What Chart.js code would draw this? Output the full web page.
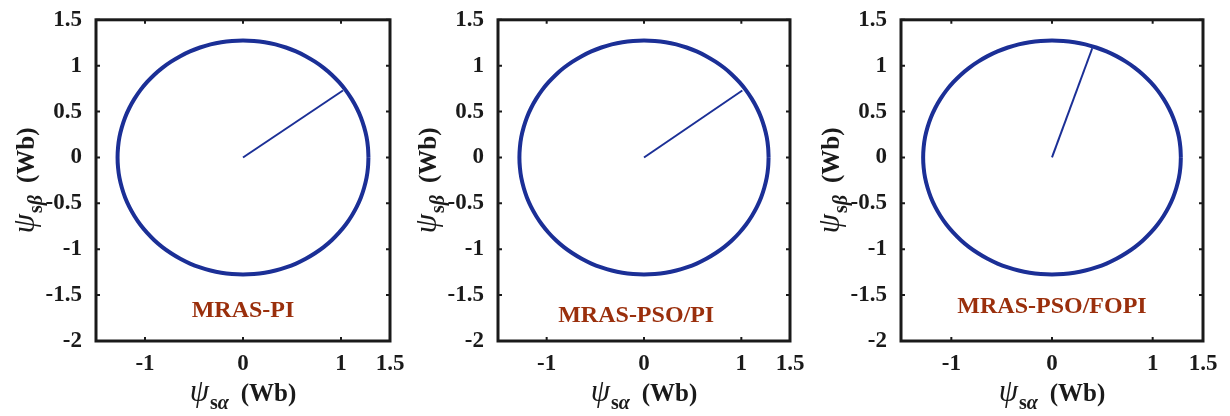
<!DOCTYPE html>
<html>
<head>
<meta charset="utf-8">
<script src="https://cdn.jsdelivr.net/npm/chart.js@4.4.1/dist/chart.umd.min.js"></script>
<style>
  html, body { margin: 0; padding: 0; background: #fff; }
  #wrap { position: relative; width: 1230px; height: 416px; overflow: hidden; }
  canvas { position: absolute; top: 0; }
</style>
</head>
<body>
<div id="wrap">
  <canvas id="c0" width="410" height="416" style="left:0px"></canvas>
  <canvas id="c1" width="410" height="416" style="left:410px"></canvas>
  <canvas id="c2" width="410" height="416" style="left:820px"></canvas>
</div>
<script>
// stator flux locus (same trajectory for all three), every 5 deg
const fluxAlpha = [
  1.280, 1.275, 1.261, 1.236, 1.203, 1.160, 1.108, 1.049, 0.980, 0.905, 0.823, 0.734, 0.640, 0.541, 0.438, 0.331, 0.222, 0.112,
  0.000, -0.112, -0.222, -0.331, -0.438, -0.541, -0.640, -0.734, -0.823, -0.905, -0.980, -1.049, -1.108, -1.160, -1.203, -1.236, -1.261, -1.275,
  -1.280, -1.275, -1.261, -1.236, -1.203, -1.160, -1.108, -1.049, -0.980, -0.905, -0.823, -0.734, -0.640, -0.541, -0.438, -0.331, -0.222, -0.112,
  0.000, 0.112, 0.222, 0.331, 0.438, 0.541, 0.640, 0.734, 0.823, 0.905, 0.980, 1.049, 1.108, 1.160, 1.203, 1.236, 1.261, 1.275,
  1.280];
const fluxBeta = [
  0.000, 0.111, 0.221, 0.330, 0.436, 0.539, 0.638, 0.731, 0.820, 0.902, 0.977, 1.044, 1.104, 1.156, 1.198, 1.232, 1.256, 1.270,
  1.275, 1.270, 1.256, 1.232, 1.198, 1.156, 1.104, 1.044, 0.977, 0.902, 0.820, 0.731, 0.638, 0.539, 0.436, 0.330, 0.221, 0.111,
  0.000, -0.111, -0.221, -0.330, -0.436, -0.539, -0.638, -0.731, -0.820, -0.902, -0.977, -1.044, -1.104, -1.156, -1.198, -1.232, -1.256, -1.270,
  -1.275, -1.270, -1.256, -1.232, -1.198, -1.156, -1.104, -1.044, -0.977, -0.902, -0.820, -0.731, -0.638, -0.539, -0.436, -0.330, -0.221, -0.111,
  0.000];

// start-up transient: origin -> point where it joins the circle
const startAlpha = [1.02, 1.01, 0.40];
const startBeta = [0.73, 0.73, 1.19];

const panelNames = ["MRAS-PI", "MRAS-PSO/PI", "MRAS-PSO/FOPI"];
const xTicks = [-1, 0, 1, 1.5];
const yTicks = [-2, -1.5, -1, -0.5, 0, 0.5, 1, 1.5];

// pixel layout inside each 410px canvas + where the name sits
const panels = [
  { left: 96, right: 20, nameX: 0, nameY: -1.67 },
  { left: 88, right: 30, nameX: -0.08, nameY: -1.72 },
  { left: 81, right: 27, nameX: 0, nameY: -1.63 }
];

const BLUE = "#1b2f96";
const NAME_RED = "#9a2f0c";
const INK = "#1a1a1a";
const SERIF = '"Liberation Serif", "DejaVu Serif", serif';

function drawParts(ctx, parts, cx, cy) {
  let total = 0;
  parts.forEach(p => { ctx.font = p.f; p.w = ctx.measureText(p.t).width + (p.gap || 0); total += p.w; });
  let x = cx - total / 2;
  ctx.textAlign = "left";
  ctx.textBaseline = "alphabetic";
  parts.forEach(p => { ctx.font = p.f; ctx.fillText(p.t, x + (p.gap || 0), cy + p.dy); x += p.w; });
}

function titleParts(sub) {
  return [
    { t: "ψ", f: "italic 31px " + SERIF, dy: 0 },
    { t: "s", f: "bold 20px " + SERIF, dy: 8, gap: 1 },
    { t: sub, f: "italic bold 20px " + SERIF, dy: 8 },
    { t: "(Wb)", f: "bold 25px " + SERIF, dy: 0, gap: 12 }
  ];
}

// MATLAB-style box, inward ticks, panel name and axis titles
const frame = {
  id: "frame",
  afterDatasetsDraw(chart, args, opts) {
    const { ctx, chartArea: a } = chart;
    const x = chart.scales.x, y = chart.scales.y;
    ctx.save();
    ctx.strokeStyle = INK;
    ctx.lineWidth = 2;
    ctx.beginPath();
    xTicks.forEach(v => {
      const px = x.getPixelForValue(v);
      ctx.moveTo(px, a.bottom); ctx.lineTo(px, a.bottom - 4);
      ctx.moveTo(px, a.top); ctx.lineTo(px, a.top + 4);
    });
    yTicks.forEach(v => {
      const py = y.getPixelForValue(v);
      ctx.moveTo(a.left, py); ctx.lineTo(a.left + 4, py);
      ctx.moveTo(a.right, py); ctx.lineTo(a.right - 4, py);
    });
    ctx.stroke();
    ctx.lineWidth = 3;
    ctx.strokeRect(a.left, a.top, a.right - a.left, a.bottom - a.top);

    ctx.fillStyle = NAME_RED;
    ctx.font = "bold 24px " + SERIF;
    ctx.textAlign = "center";
    ctx.textBaseline = "middle";
    ctx.fillText(opts.name, x.getPixelForValue(opts.nameX), y.getPixelForValue(opts.nameY));

    ctx.fillStyle = INK;
    drawParts(ctx, titleParts("α"), (a.left + a.right) / 2, a.bottom + 60);
    ctx.translate(a.left - 62, (a.top + a.bottom) / 2);
    ctx.rotate(-Math.PI / 2);
    drawParts(ctx, titleParts("β"), 0, 0);
    ctx.restore();
  }
};

const tickFont = { family: SERIF, size: 23, weight: "bold" };

panels.forEach((p, k) => {
  const circle = fluxAlpha.map((v, i) => ({ x: v, y: fluxBeta[i] }));
  const start = [{ x: 0, y: 0 }, { x: startAlpha[k], y: startBeta[k] }];

  new Chart(document.getElementById("c" + k), {
    type: "scatter",
    data: {
      datasets: [
        { data: circle, showLine: true, tension: 0.4, borderColor: BLUE, borderWidth: 4, pointRadius: 0 },
        { data: start, showLine: true, tension: 0, borderColor: BLUE, borderWidth: 2, pointRadius: 0 }
      ]
    },
    options: {
      responsive: false,
      animation: false,
      devicePixelRatio: 1,
      layout: { padding: { left: 0, right: p.right, top: 16, bottom: 0 } },
      plugins: {
        legend: { display: false },
        tooltip: { enabled: false },
        frame: { name: panelNames[k], nameX: p.nameX, nameY: p.nameY }
      },
      scales: {
        x: {
          type: "linear", min: -1.5, max: 1.5,
          afterBuildTicks: s => { s.ticks = xTicks.map(v => ({ value: v })); },
          afterFit: s => { s.height = 75; },
          grid: { display: false }, border: { display: false },
          ticks: { font: tickFont, color: INK, padding: 1, maxRotation: 0, autoSkip: false,
                   callback: v => String(v) }
        },
        y: {
          type: "linear", min: -2, max: 1.5,
          afterBuildTicks: s => { s.ticks = yTicks.map(v => ({ value: v })); },
          afterFit: s => { s.width = p.left; },
          grid: { display: false }, border: { display: false },
          ticks: { font: tickFont, color: INK, padding: 6, autoSkip: false,
                   callback: v => String(v) }
        }
      }
    },
    plugins: [frame]
  });
});
</script>
</body>
</html>
